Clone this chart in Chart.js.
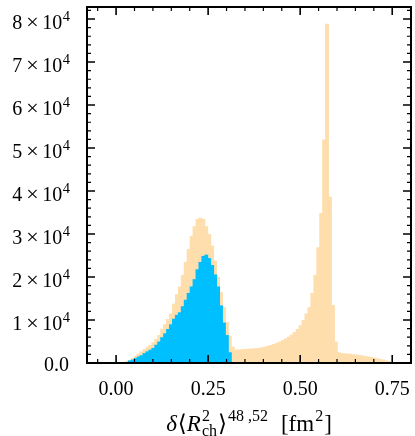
<!DOCTYPE html>
<html><head><meta charset="utf-8">
<script src="https://cdn.jsdelivr.net/npm/chart.js@4.4.1/dist/chart.umd.min.js"></script>
<style>html,body{margin:0;padding:0;background:#fff}#wrap{width:415px;height:436px}</style>
</head><body><div id="wrap"><canvas id="c" width="415" height="436"></canvas></div>
<script>
// histogram bins (100 bins)
const binStart = -0.039;
const binWidth = 0.008;
// total sample (orange)
const totalCounts = [
  0,0,0,0,0,0,100,250,450,700,
  1100,1700,2200,2700,3200,3700,4200,4800,5600,6500,
  8000,9000,10200,11500,13800,16000,17800,20500,23500,26500,
  29500,31800,33500,33800,33500,31800,30000,27300,23800,20000,
  16500,13000,9500,6300,3800,3100,3150,3200,3250,3300,
  3350,3400,3450,3550,3650,3800,4000,4200,4400,4700,
  5000,5300,5700,6100,6600,7200,7900,8800,10000,11500,
  13000,16300,20500,26900,34900,52000,78900,38700,13500,5000,
  2500,2300,2250,2200,2150,2000,1950,1850,1750,1600,
  1500,1400,1250,1100,950,800,600,400,250,100
];
// subset (blue)
const subsetCounts = [
  0,0,0,0,0,0,0,0,0,600,
  800,1150,1500,1800,2300,2700,3100,3500,4250,5000,
  6000,6900,7900,9000,10300,11200,11800,13200,14700,16300,
  17800,19500,21800,23500,24900,25200,24400,22800,20600,17800,
  13400,9400,6500,2500,0,0,0,0,0,0,
  0,0,0,0,0,0,0,0,0,0,
  0,0,0,0,0,0,0,0,0,0,
  0,0,0,0,0,0,0,0,0,0,
  0,0,0,0,0,0,0,0,0,0,
  0,0,0,0,0,0,0,0,0,0
];
const xTickValues = [0, 0.25, 0.5, 0.75];
const xTickLabels = ["0.00", "0.25", "0.50", "0.75"];
const yTickValues = [0, 10000, 20000, 30000, 40000, 50000, 60000, 70000, 80000];
const yTickMantissas = ["0.0", "1", "2", "3", "4", "5", "6", "7", "8"];
const yTickExponent = "4";
const xMinorStep = 0.05;
const yMinorStep = 2000;

const binCenters = totalCounts.map((_, i) => binStart + binWidth * (i + 0.5));
const FONT = "'Liberation Serif', 'DejaVu Serif', serif";

const framePlugin = {
  id: 'frame',
  afterDatasetsDraw(chart) {
    const {ctx, chartArea: a, scales: {x, y}} = chart;
    ctx.save();
    ctx.strokeStyle = '#000';
    const MAJ = 8, MIN = 4;
    ctx.lineWidth = 1.2;
    ctx.beginPath();
    for (let k = Math.ceil(x.min / xMinorStep); k * xMinorStep <= x.max; k++) {
      if (k % 5 === 0) continue;
      const px = x.getPixelForValue(k * xMinorStep);
      ctx.moveTo(px, a.bottom); ctx.lineTo(px, a.bottom - MIN);
      ctx.moveTo(px, a.top); ctx.lineTo(px, a.top + MIN);
    }
    for (let k = 1; k * yMinorStep <= y.max; k++) {
      if (k % 5 === 0) continue;
      const py = y.getPixelForValue(k * yMinorStep);
      ctx.moveTo(a.left, py); ctx.lineTo(a.left + MIN, py);
      ctx.moveTo(a.right, py); ctx.lineTo(a.right - MIN, py);
    }
    ctx.stroke();
    ctx.lineWidth = 1.6;
    ctx.beginPath();
    xTickValues.forEach(v => {
      const px = x.getPixelForValue(v);
      ctx.moveTo(px, a.bottom); ctx.lineTo(px, a.bottom - MAJ);
      ctx.moveTo(px, a.top); ctx.lineTo(px, a.top + MAJ);
    });
    yTickValues.forEach(v => {
      const py = y.getPixelForValue(v);
      ctx.moveTo(a.left, py); ctx.lineTo(a.left + MAJ, py);
      ctx.moveTo(a.right, py); ctx.lineTo(a.right - MAJ, py);
    });
    ctx.stroke();
    ctx.lineWidth = 2;
    ctx.strokeRect(a.left, a.top, a.right - a.left, a.bottom - a.top);
    ctx.restore();
  },
  afterDraw(chart) {
    const {ctx, chartArea: a, scales: {y}} = chart;
    ctx.save();
    ctx.fillStyle = '#000';
    ctx.textBaseline = 'alphabetic';
    // y tick labels with superscript exponent
    const R20 = `20px ${FONT}`, S14 = `14.5px ${FONT}`;
    const rightEdge = 70;
    yTickValues.forEach((v, i) => {
      const py = y.getPixelForValue(v);
      const m = yTickMantissas[i];
      if (v === 0) {
        ctx.font = R20; ctx.textAlign = 'right';
        ctx.fillText(m, rightEdge - 1, py + 8.2);
        return;
      }
      ctx.textAlign = 'left';
      const pieces = [
        {t: m, f: R20, dy: 0, gap: 4},
        {t: '×', f: `22px ${FONT}`, dy: 0, gap: 3.5},
        {t: '10', f: R20, dy: 0, gap: 0.5},
        {t: yTickExponent, f: S14, dy: -8, gap: 0}
      ];
      let w = 0;
      pieces.forEach(p => { ctx.font = p.f; p.w = ctx.measureText(p.t).width; w += p.w + p.gap; });
      let xx = rightEdge - w;
      const base = py + 10.3;
      pieces.forEach(p => { ctx.font = p.f; ctx.fillText(p.t, xx, base + p.dy); xx += p.w + p.gap; });
    });
    // x axis title
    const big = 23, small = 16;
    const R = `${big}px ${FONT}`, I = `italic ${big}px ${FONT}`, S = `${small}px ${FONT}`;
    const up = -10, down = 5;
    const parts = [
      {t: 'δ', f: I, dy: 0, gap: 1},
      {t: '⟨', f: R, dy: 0, gap: 0},
      {t: 'R', f: I, dy: 0, gap: 1},
      {stack: [{t: '2', f: S, dy: up}, {t: 'ch', f: S, dy: down}], gap: 1},
      {t: '⟩', f: R, dy: 0, gap: 1},
      {t: '48 ,52', f: S, dy: up, gap: 13},
      {t: '[fm', f: R, dy: 0, gap: 1},
      {t: '2', f: S, dy: up, gap: 1},
      {t: ']', f: R, dy: 0, gap: 0}
    ];
    const widthOf = p => {
      if (p.stack) return Math.max(...p.stack.map(widthOf));
      ctx.font = p.f; return ctx.measureText(p.t).width;
    };
    const total = parts.reduce((s, p) => s + widthOf(p) + p.gap, 0);
    let xx = (a.left + a.right) / 2 - total / 2;
    const base = 431;
    ctx.textAlign = 'left';
    parts.forEach(p => {
      const wp = widthOf(p);
      const list = p.stack ? p.stack : [p];
      list.forEach(q => { ctx.font = q.f; ctx.fillText(q.t, xx, base + q.dy); });
      xx += wp + p.gap;
    });
    ctx.restore();
  }
};

new Chart(document.getElementById('c'), {
  type: 'bar',
  data: {
    datasets: [
      {
        label: 'subset',
        data: binCenters.map((x, i) => ({x, y: subsetCounts[i]})),
        backgroundColor: '#00BFFF',
        borderWidth: 0,
        grouped: false,
        barPercentage: 1.3,
        categoryPercentage: 1,
        order: 0
      },
      {
        label: 'total',
        data: binCenters.map((x, i) => ({x, y: totalCounts[i]})),
        backgroundColor: '#FFDEAD',
        borderWidth: 0,
        grouped: false,
        barPercentage: 1.3,
        categoryPercentage: 1,
        order: 1
      }
    ]
  },
  options: {
    responsive: false,
    animation: false,
    devicePixelRatio: 1,
    layout: {padding: {left: 0, right: 4, top: 7, bottom: 0}},
    plugins: {legend: {display: false}, tooltip: {enabled: false}},
    scales: {
      x: {
        type: 'linear', min: -0.079, max: 0.801, offset: false,
        grid: {display: false, drawTicks: false}, border: {display: false},
        afterBuildTicks: s => { s.ticks = xTickValues.map(v => ({value: v})); },
        afterFit: s => { s.height = 73; s.paddingLeft = 0; s.paddingRight = 0; s.paddingTop = 0; s.paddingBottom = 0; },
        ticks: {
          autoSkip: false, maxRotation: 0, minRotation: 0, padding: 15, color: '#000',
          font: {family: FONT, size: 20},
          callback: v => xTickLabels[xTickValues.indexOf(v)]
        }
      },
      y: {
        type: 'linear', min: 0, max: 82800,
        grid: {display: false, drawTicks: false}, border: {display: false},
        afterBuildTicks: s => { s.ticks = yTickValues.map(v => ({value: v})); },
        afterFit: s => { s.width = 87; s.paddingLeft = 0; s.paddingRight = 0; s.paddingTop = 0; s.paddingBottom = 0; },
        ticks: {display: false}
      }
    }
  },
  plugins: [framePlugin]
});
</script>
</body></html>
